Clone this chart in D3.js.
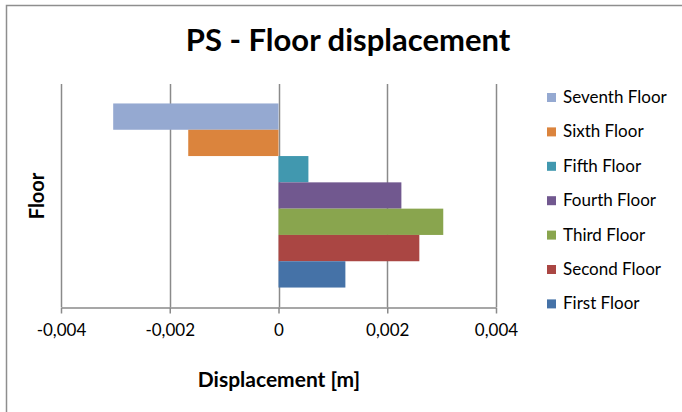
<!DOCTYPE html>
<html>
<head>
<meta charset="utf-8">
<script src="https://cdn.jsdelivr.net/npm/d3@7"></script>
<style>
  html, body { margin: 0; padding: 0; background: #fff; }
  svg { display: block; }
  text { font-family: "Lato", "Open Sans", sans-serif; fill: #000; }
</style>
</head>
<body>
<svg id="chart" width="682" height="412"></svg>
<script>
// Series, listed top to bottom as they appear in the legend
const series = ["Seventh Floor", "Sixth Floor", "Fifth Floor", "Fourth Floor", "Third Floor", "Second Floor", "First Floor"];
const displacement = [-0.00304, -0.00166, 0.00055, 0.00226, 0.00303, 0.00259, 0.00123];
const colors = ["#95a9d1", "#db843d", "#4198af", "#71588f", "#89a54e", "#aa4643", "#4572a7"];
const xTicks = [-0.004, -0.002, 0, 0.002, 0.004];
const xTickLabels = ["-0,004", "-0,002", "0", "0,002", "0,004"];

const svg = d3.select("#chart");

// chart frame
svg.append("rect")
  .attr("x", 6.5).attr("y", 5.5)
  .attr("width", 700).attr("height", 420)
  .attr("fill", "#fff").attr("stroke", "#8e8e8e").attr("stroke-width", 1.5);

const plot = { left: 61, right: 496, top: 84, bottom: 307 };

const x = d3.scaleLinear().domain([-0.004, 0.004]).range([plot.left, plot.right]);
const y = d3.scaleBand().domain(series)
  .range([plot.top, plot.bottom])
  .paddingInner(0).paddingOuter(0.74);

// vertical gridlines
svg.append("g").selectAll("line").data(xTicks).join("line")
  .attr("x1", d => Math.round(x(d)) + 0.5).attr("x2", d => Math.round(x(d)) + 0.5)
  .attr("y1", plot.top).attr("y2", plot.bottom)
  .attr("stroke", "#8a8a8a").attr("stroke-width", 1.5);

// bars
svg.append("g").selectAll("rect").data(series).join("rect")
  .attr("x", (d, i) => x(Math.min(0, displacement[i])))
  .attr("width", (d, i) => Math.abs(x(displacement[i]) - x(0)))
  .attr("y", d => y(d))
  .attr("height", y.bandwidth())
  .attr("fill", (d, i) => colors[i]);

// horizontal value axis
const xAxis = d3.axisBottom(x)
  .tickValues(xTicks)
  .tickFormat((d, i) => xTickLabels[i])
  .tickSize(6).tickSizeOuter(0).tickPadding(10);

const ax = svg.append("g")
  .attr("transform", `translate(0,${plot.bottom + 0.5})`)
  .call(xAxis);
ax.select(".domain").attr("stroke", "#8a8a8a").attr("stroke-width", 1.5);
ax.selectAll(".tick line").attr("stroke", "#8a8a8a").attr("stroke-width", 1.5);
ax.selectAll(".tick text")
  .attr("font-family", "Lato, 'Open Sans', sans-serif")
  .attr("font-size", 17).attr("fill", "#000");

// title
svg.append("text")
  .attr("x", 348).attr("y", 51)
  .attr("text-anchor", "middle")
  .attr("font-size", 31).attr("font-weight", "bold")
  .text("PS - Floor displacement");

// axis titles
svg.append("text")
  .attr("x", 279).attr("y", 387)
  .attr("text-anchor", "middle")
  .attr("font-size", 21).attr("font-weight", "bold")
  .text("Displacement [m]");

svg.append("text")
  .attr("transform", "translate(44,196) rotate(-90)")
  .attr("text-anchor", "middle")
  .attr("font-size", 20).attr("font-weight", "bold")
  .text("Floor");

// legend
const legend = svg.append("g").selectAll("g").data(series).join("g")
  .attr("transform", (d, i) => `translate(547,${93 + i * 34.4})`);
legend.append("rect")
  .attr("width", 9).attr("height", 9)
  .attr("fill", (d, i) => colors[i]);
legend.append("text")
  .attr("x", 16).attr("y", 10)
  .attr("font-size", 17)
  .text(d => d);
</script>
</body>
</html>
